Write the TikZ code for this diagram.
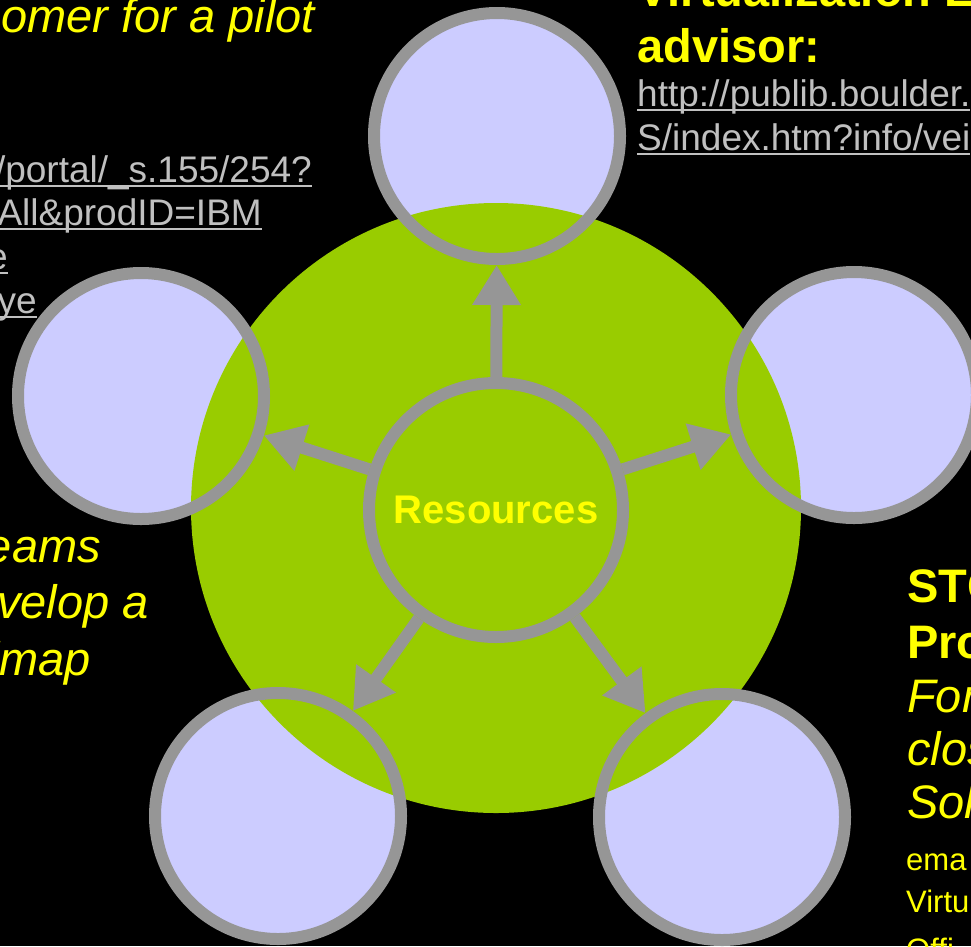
\documentclass[tikz,border=0pt]{standalone}
\usepackage{fontspec}
\setmainfont{Liberation Sans}
\usetikzlibrary{arrows.meta}
\definecolor{discgreen}{HTML}{99CC00}
\definecolor{lav}{HTML}{CCCCFF}
\definecolor{ringgray}{HTML}{969696}
\definecolor{linkgray}{HTML}{C0C0C0}
\definecolor{ylw}{HTML}{FFFF00}
\newcommand{\lnkul}[1]{\setbox0\hbox{#1}\rlap{\rule[-5pt]{\wd0}{2pt}}\box0}
\tikzset{
  ring/.style={circle, draw=ringgray, line width=12pt, minimum size=246pt, inner sep=0pt},
  hubring/.style={circle, draw=ringgray, line width=12pt, minimum size=254pt, inner sep=0pt,
    text=ylw, font=\fontsize{40}{46}\selectfont\bfseries},
  arr/.style={draw=ringgray, line width=12pt, -{Triangle[length=40pt,width=46pt]}},
  bigit/.style={inner sep=0pt, text=ylw, font=\fontsize{47}{54}\selectfont\itshape},
  bigbf/.style={inner sep=0pt, text=ylw, font=\fontsize{47}{54}\selectfont\bfseries},
  small/.style={inner sep=0pt, text=ylw, font=\fontsize{31}{36}\selectfont},
  link/.style={inner sep=0pt, text=linkgray, font=\fontsize{37}{43}\selectfont},
}
\begin{document}
\begin{tikzpicture}[x=1pt,y=-1pt]
\useasboundingbox (0,0) rectangle (971,946);
\clip (0,0) rectangle (971,946);
\fill[black] (0,0) rectangle (971,946);
% lavender fills (under the green disc)
\fill[lav] (497,136) circle[radius=123];
\fill[lav] (141,396) circle[radius=123];
\fill[lav] (854,395) circle[radius=123];
\fill[lav] (278,816) circle[radius=123];
\fill[lav] (722,817) circle[radius=123];
% green disc
\fill[discgreen] (496,508) circle[radius=305];
% rings
\node[ring] (top) at (497,136) {};
\node[ring] (left) at (141,396) {};
\node[ring] (right) at (854,395) {};
\node[ring] (bl) at (278,816) {};
\node[ring] (br) at (722,817) {};
\node[hubring] (hub) at (496,510) {Resources};
% arrows
\draw[arr] (hub) -- (top);
\draw[arr] (hub) -- (left);
\draw[arr] (hub) -- (right);
\draw[arr] (hub) -- (bl);
\draw[arr] (hub) -- (br);
% top-left texts
\node[bigit, anchor=base east] (tl1) at (315,32) {omer for a pilot};
\node[link, anchor=base east] (tl2) at (312,182) {\lnkul{/portal/\_s.155/254?}};
\node[link, anchor=base east] (tl3) at (262,225) {\lnkul{All\&prodID=IBM}};
\node[link, anchor=base east] (tl4) at (8,269) {\lnkul{e}};
\node[link, anchor=base east] (tl5) at (37,313) {\lnkul{ye}};
% top-right texts
\node[bigbf, anchor=base west] (tr1) at (637,6) {Virtualization E};
\node[bigbf, anchor=base west] (tr2) at (637,62) {advisor:};
\node[link, anchor=base west] (tr3) at (637,106) {\lnkul{http://publib.boulder.}};
\node[link, anchor=base west] (tr4) at (637,150) {\lnkul{S/index.htm?info/vei}};
% left texts
\node[bigit, anchor=base east] (l1) at (101,562) {eams};
\node[bigit, anchor=base east] (l2) at (149,618) {velop a};
\node[bigit, anchor=base east] (l3) at (91,675) {dmap};
% right texts
\node[bigbf, anchor=base west] (r1) at (907,602) {STG};
\node[bigbf, anchor=base west] (r2) at (907,658) {Pro};
\node[bigit, anchor=base west] (r3) at (907,712) {For};
\node[bigit, anchor=base west] (r4) at (907,765) {clos};
\node[bigit, anchor=base west] (r5) at (907,818) {Sol};
\node[small, anchor=base west] (r6) at (906,870) {ema};
\node[small, anchor=base west] (r7) at (906,912) {Virtu};
\node[small, anchor=base west] (r8) at (906,960) {Offi};
\end{tikzpicture}
\end{document}
